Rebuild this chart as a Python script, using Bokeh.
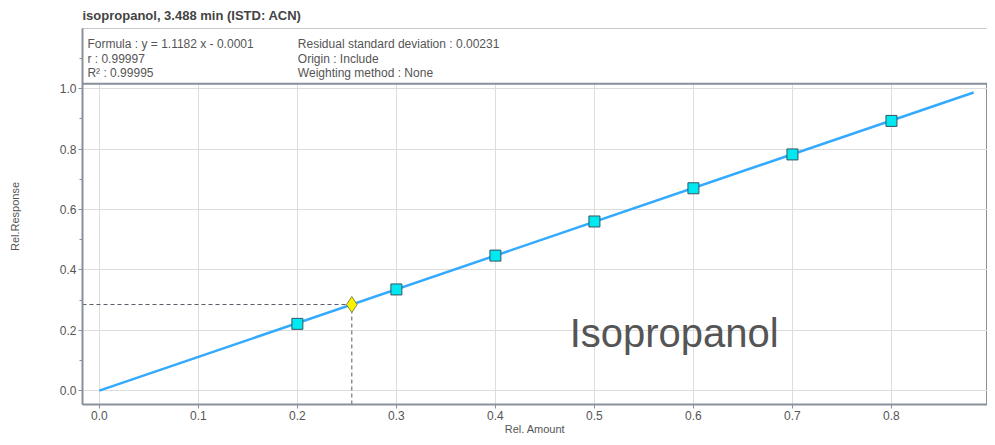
from bokeh.plotting import figure
from bokeh.embed import file_html
from bokeh.resources import INLINE
from bokeh.models import FixedTicker, Span, CustomJSTickFormatter
from bokeh.core.properties import value

amount = [0.2, 0.3, 0.4, 0.5, 0.6, 0.7, 0.8]
response = [0.221, 0.335, 0.447, 0.560, 0.670, 0.782, 0.893]
sample_x = [0.255]
sample_y = [0.285]
fit_x = [0.0, 0.883]
slope, intercept = 1.1182, -0.0001
fit_y = [slope * v + intercept for v in fit_x]
xticks = [0.0, 0.1, 0.2, 0.3, 0.4, 0.5, 0.6, 0.7, 0.8]
yticks = [0.0, 0.2, 0.4, 0.6, 0.8, 1.0]
info_left = ["Formula : y = 1.1182 x - 0.0001", "r : 0.99997", "R\u00b2 : 0.99995"]
info_right = ["Residual standard deviation : 0.00231", "Origin : Include", "Weighting method : None"]
info_y = [1.148, 1.099, 1.050]

F = "Liberation Sans"
GREY = "#8a8f9c"
TXT = "#555555"

p = figure(width=987, height=437, output_backend="svg", toolbar_location=None,
           x_range=(-0.017, 0.897), y_range=(-0.046, 1.199),
           min_border_left=82, min_border_right=0, min_border_bottom=10, min_border_top=20,
           title="isopropanol, 3.488 min (ISTD: ACN)")
p.title.text_font = F
p.title.text_font_size = "13px"
p.title.text_color = "#444444"
p.title.text_font_style = "bold"
p.title.align = "left"
p.title.standoff = 11
p.outline_line_color = GREY

for ax, t in ((p.xaxis, xticks), (p.yaxis, yticks)):
    ax.ticker = FixedTicker(ticks=t, minor_ticks=[i / 20 if ax is p.xaxis else i / 10 for i in range(0, 21)])
    ax.axis_line_color = GREY
    ax.axis_line_width = 2
    ax.major_tick_line_color = GREY
    ax.minor_tick_line_color = GREY
    ax.major_tick_in = 0
    ax.major_tick_out = 4
    ax.minor_tick_in = 0
    ax.minor_tick_out = 3
    ax.major_label_standoff = 2
    ax.major_label_text_font = F
    ax.major_label_text_font_size = "12px"
    ax.major_label_text_color = TXT
    ax.axis_label_text_font = F
    ax.axis_label_text_font_size = "11px"
    ax.axis_label_text_color = TXT
    ax.axis_label_text_font_style = "normal"
    ax.formatter = CustomJSTickFormatter(code="return tick.toFixed(1)")
p.xaxis.axis_label = "Rel. Amount"
p.yaxis.axis_label = "Rel.Response"
p.xaxis.axis_label_standoff = 0
p.yaxis.axis_label_standoff = 36
p.grid.grid_line_color = "#dddddd"
p.xgrid.ticker = FixedTicker(ticks=xticks)
p.ygrid.ticker = FixedTicker(ticks=yticks)

# info box
p.quad(left=-0.1, right=1.0, bottom=1.016, top=1.3, fill_color="white", line_color=None)
p.add_layout(Span(location=1.016, dimension="width", line_color=GREY, line_width=2))
p.text(x=[-0.012] * 3, y=info_y, text=info_left, text_font=value(F), text_font_size="12px",
       text_color=TXT, text_baseline="middle")
p.text(x=[0.2005] * 3, y=info_y, text=info_right, text_font=value(F), text_font_size="12px",
       text_color=TXT, text_baseline="middle")

p.line([sample_x[0], sample_x[0]], [-0.046, sample_y[0]], line_dash="4 3", line_color="#555a66", line_width=1)
p.line([-0.017, sample_x[0]], [sample_y[0], sample_y[0]], line_dash="4 3", line_color="#555a66", line_width=1)
p.line(fit_x, fit_y, line_color="#33aaff", line_width=2.5)
p.scatter(amount, response, marker="square", size=11, fill_color="#00e8f0", line_color="#335566")
p.scatter(sample_x, sample_y, marker="diamond", size=16, fill_color="#f8f400", line_color="#888844")

p.text(x=[0.475], y=[0.19], text=["Isopropanol"], text_font=value(F), text_font_size="40px",
       text_color="#555555", text_baseline="middle")

open("out.html", "w").write(file_html(p, INLINE))
